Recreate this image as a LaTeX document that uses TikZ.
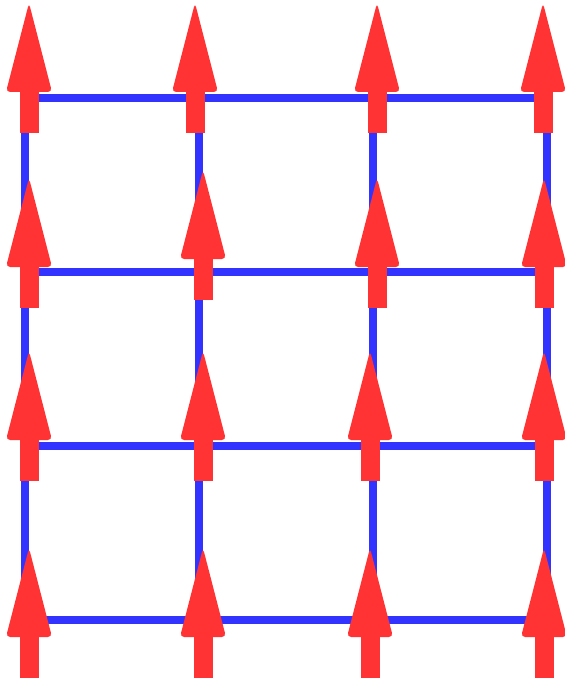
\documentclass[tikz,border=0pt]{standalone}
\usetikzlibrary{positioning}
\definecolor{spinred}{RGB}{255,51,51}
\definecolor{bondblue}{RGB}{51,51,255}
\tikzset{
  bond/.style={draw=bondblue, line width=6.6pt},
  spin/.pic={
    \fill[spinred, rounded corners=3.5pt] (0,-3) -- (23,86) -- (-23,86) -- cycle;
    \fill[spinred] (-9.5,84) rectangle (9.5,127);
  }
}

\begin{document}
\begin{tikzpicture}[x=0.03cm, y=-0.03cm]
\useasboundingbox (0,0) rectangle (564,679);

% Lattice sites
\coordinate (s11) at (25,98);  \coordinate (s12) at (199,98);  \coordinate (s13) at (373,98);  \coordinate (s14) at (547,98);
\coordinate (s21) at (25,272); \coordinate (s22) at (199,272); \coordinate (s23) at (373,272); \coordinate (s24) at (547,272);
\coordinate (s31) at (25,446); \coordinate (s32) at (199,446); \coordinate (s33) at (373,446); \coordinate (s34) at (547,446);
\coordinate (s41) at (25,620); \coordinate (s42) at (199,620); \coordinate (s43) at (373,620); \coordinate (s44) at (547,620);

% Bonds
\draw[bond] (s11) rectangle (s44);
\draw[bond] (s21) -- (s24);
\draw[bond] (s31) -- (s34);
\draw[bond] (s12) -- (s42);
\draw[bond] (s13) -- (s43);

% Spins (all up, slightly jittered)
\pic (a11) at (29,6) {spin};
\pic (a12) at (195,6) {spin};
\pic (a13) at (377,6) {spin};
\pic (a14) at (543,6) {spin};

\pic (a21) at (29,181) {spin};
\pic (a22) at (203,173) {spin};
\pic (a23) at (377,181) {spin};
\pic (a24) at (544,181) {spin};

\pic (a31) at (29,354) {spin};
\pic (a32) at (203,354) {spin};
\pic (a33) at (370,354) {spin};
\pic (a34) at (544,354) {spin};

\pic (a41) at (29,551) {spin};
\pic (a42) at (203,551) {spin};
\pic (a43) at (370,551) {spin};
\pic (a44) at (544,551) {spin};
\end{tikzpicture}
\end{document}
